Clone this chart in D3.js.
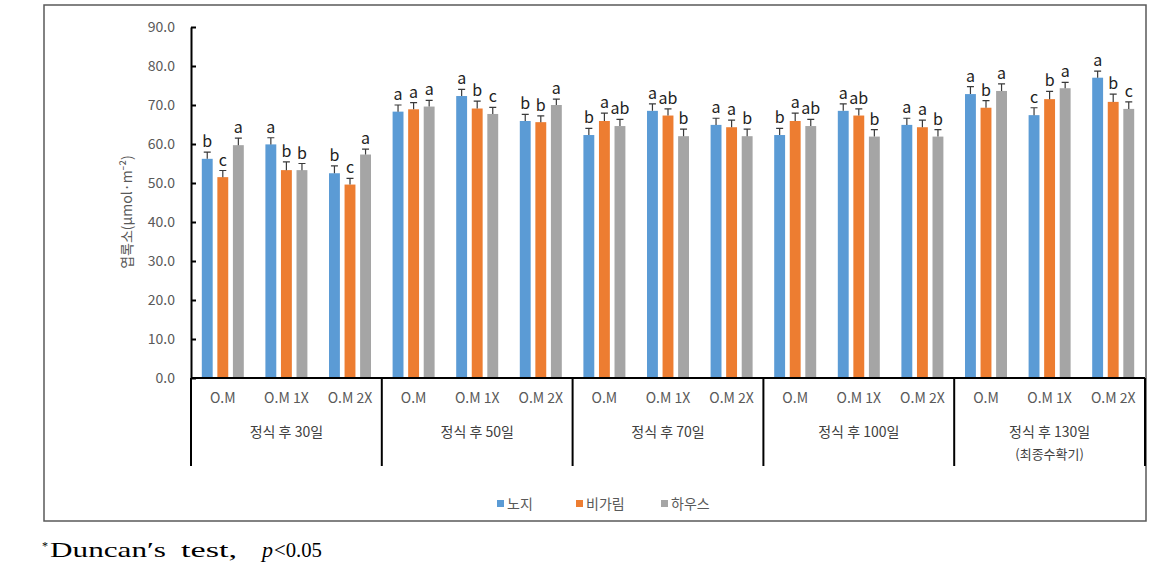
<!DOCTYPE html>
<html>
<head>
<meta charset="utf-8">
<script src="https://cdn.jsdelivr.net/npm/d3@7"></script>
<style>
  body { margin: 0; background: #fff; }
  svg text { font-family: 'Noto Sans CJK KR', 'Noto Sans', sans-serif; }
</style>
</head>
<body>
<script>
// Data
const groups = ['정식 후 30일', '정식 후 50일', '정식 후 70일', '정식 후 100일', '정식 후 130일'];
const treatments = ['O.M', 'O.M 1X', 'O.M 2X'];
const seriesNames = ['노지', '비가림', '하우스'];
const colors = ['#5B9BD5', '#ED7D31', '#A5A5A5'];

// values per category (group x treatment), one array per series
const openField = [56.2, 59.9, 52.5, 68.3, 72.3, 65.9, 62.3, 68.5, 64.9, 62.3, 68.5, 64.9, 72.8, 67.4, 77.0];
const rainShelter = [51.5, 53.3, 49.6, 68.9, 69.1, 65.6, 65.9, 67.3, 64.3, 65.9, 67.3, 64.3, 69.3, 71.5, 70.8];
const greenhouse = [59.7, 53.3, 57.3, 69.6, 67.7, 70.0, 64.6, 62.0, 62.0, 64.6, 61.9, 61.9, 73.6, 74.3, 69.0];

const errOpen = [1.7, 1.7, 1.9, 1.7, 1.7, 1.7, 1.7, 1.8, 1.7, 1.7, 1.8, 1.7, 1.9, 1.9, 1.7];
const errRain = [1.7, 2.1, 1.6, 1.7, 1.9, 1.6, 2.0, 1.7, 1.8, 2.0, 1.7, 1.8, 1.8, 2.0, 2.0];
const errHouse = [1.8, 1.7, 1.4, 1.6, 1.7, 1.5, 1.7, 1.8, 1.8, 1.7, 1.8, 1.8, 1.8, 1.5, 1.8];

const letOpen = ['b', 'a', 'b', 'a', 'a', 'b', 'b', 'a', 'a', 'b', 'a', 'a', 'a', 'c', 'a'];
const letRain = ['c', 'b', 'c', 'a', 'b', 'b', 'a', 'ab', 'a', 'a', 'ab', 'a', 'b', 'b', 'b'];
const letHouse = ['a', 'b', 'a', 'a', 'c', 'a', 'ab', 'b', 'b', 'ab', 'b', 'b', 'a', 'a', 'c'];

const yTicks = [0, 10, 20, 30, 40, 50, 60, 70, 80, 90];

const values = [openField, rainShelter, greenhouse];
const errors = [errOpen, errRain, errHouse];
const letters = [letOpen, letRain, letHouse];

const categories = [];
groups.forEach((g, gi) => treatments.forEach((t, ti) => categories.push(gi + '|' + ti)));

// SVG
const svg = d3.select('body').append('svg').attr('width', 1169).attr('height', 574);

// chart frame
svg.append('rect')
  .attr('x', 44).attr('y', 5).attr('width', 1102).attr('height', 516)
  .attr('fill', 'none').attr('stroke', '#595959').attr('stroke-width', 1.5);

const plotLeft = 191, plotRight = 1145, plotTop = 27, plotBottom = 378;

const x = d3.scaleBand().domain(categories).range([plotLeft, plotRight]);
const y = d3.scaleLinear().domain([0, 90]).range([plotBottom, plotTop]);
const xs = d3.scaleBand().domain([0, 1, 2]).range([0, 42]).paddingInner(0.3);
const barOffset = (x.bandwidth() - 42) / 2;

// y axis
const yAxis = svg.append('g')
  .attr('transform', `translate(${plotLeft},0)`)
  .call(d3.axisLeft(y).tickValues(yTicks).tickFormat(d3.format('.1f')).tickSizeInner(-5).tickSizeOuter(0).tickPadding(16));
yAxis.select('.domain').attr('stroke', '#000').attr('stroke-width', 2);
yAxis.selectAll('.tick line').attr('stroke', '#000').attr('stroke-width', 2);
yAxis.selectAll('.tick text').attr('fill', '#595959').attr('font-size', 14);

svg.append('text')
  .attr('transform', 'translate(132,212) rotate(-90)')
  .attr('text-anchor', 'middle')
  .attr('fill', '#595959')
  .attr('font-size', 14)
  .text('엽록소(μmol·m⁻²)');

// bars
values.forEach((vals, si) => {
  const g = svg.append('g');
  g.selectAll('rect')
    .data(vals)
    .enter()
    .append('rect')
    .attr('x', (d, i) => x(categories[i]) + barOffset + xs(si))
    .attr('width', xs.bandwidth())
    .attr('y', (d) => y(d))
    .attr('height', (d) => plotBottom - y(d))
    .attr('fill', colors[si]);

  // error bars
  const cx = (i) => x(categories[i]) + barOffset + xs(si) + xs.bandwidth() / 2;
  g.selectAll('.err')
    .data(vals)
    .enter()
    .append('path')
    .attr('class', 'err')
    .attr('d', (d, i) => {
      const c = cx(i), t = y(d + errors[si][i]);
      return `M${c},${y(d)}V${t}M${c - 3.5},${t}H${c + 3.5}`;
    })
    .attr('stroke', '#3a3a3a')
    .attr('stroke-width', 1.2)
    .attr('fill', 'none');

  // significance letters
  g.selectAll('.lab')
    .data(vals)
    .enter()
    .append('text')
    .attr('class', 'lab')
    .attr('x', (d, i) => cx(i))
    .attr('y', (d, i) => y(d + errors[si][i]) - 5)
    .attr('text-anchor', 'middle')
    .attr('font-size', 16)
    .attr('fill', '#222')
    .text((d, i) => letters[si][i]);
});

// x axis line
svg.append('line')
  .attr('x1', plotLeft).attr('x2', plotRight).attr('y1', plotBottom).attr('y2', plotBottom)
  .attr('stroke', '#000').attr('stroke-width', 2);

// treatment labels
svg.append('g').selectAll('text')
  .data(categories)
  .enter()
  .append('text')
  .attr('x', (d) => x(d) + x.bandwidth() / 2)
  .attr('y', 403)
  .attr('text-anchor', 'middle')
  .attr('fill', '#595959')
  .attr('font-size', 14)
  .text((d) => treatments[+d.split('|')[1]]);

// group labels and dividers
const groupW = x.bandwidth() * 3;
svg.append('g').selectAll('line')
  .data(d3.range(groups.length + 1))
  .enter()
  .append('line')
  .attr('x1', (d) => plotLeft + d * groupW)
  .attr('x2', (d) => plotLeft + d * groupW)
  .attr('y1', plotBottom)
  .attr('y2', 466)
  .attr('stroke', '#000')
  .attr('stroke-width', 2);

svg.append('g').selectAll('text')
  .data(groups)
  .enter()
  .append('text')
  .attr('x', (d, i) => plotLeft + (i + 0.5) * groupW)
  .attr('y', 437)
  .attr('text-anchor', 'middle')
  .attr('fill', '#404040')
  .attr('font-size', 14)
  .text((d) => d);

svg.append('text')
  .attr('x', plotLeft + 4.5 * groupW)
  .attr('y', 459)
  .attr('text-anchor', 'middle')
  .attr('fill', '#404040')
  .attr('font-size', 13)
  .text('(최종수확기)');

// legend
const legendX = [497, 576, 661];
const legend = svg.append('g');
seriesNames.forEach((n, i) => {
  legend.append('rect')
    .attr('x', legendX[i]).attr('y', 500).attr('width', 7).attr('height', 7)
    .attr('fill', colors[i]);
  legend.append('text')
    .attr('x', legendX[i] + 10).attr('y', 509)
    .attr('fill', '#595959')
    .attr('font-size', 14)
    .text(n);
});

// footnote
const serif = "'Liberation Serif', serif";
svg.append('text').attr('x', 42).attr('y', 550).style('font-family', serif)
  .attr('font-size', 12).text('*');
svg.append('text').attr('x', 50).attr('y', 557).style('font-family', serif)
  .attr('font-size', 22).attr('textLength', 116).attr('lengthAdjust', 'spacingAndGlyphs').text('Duncan\u2032s');
svg.append('text').attr('x', 181).attr('y', 557).style('font-family', serif)
  .attr('font-size', 22).attr('textLength', 56).attr('lengthAdjust', 'spacingAndGlyphs').text('test,');
svg.append('text').attr('x', 262).attr('y', 557).style('font-family', serif)
  .attr('font-size', 22).attr('font-style', 'italic').text('p');
svg.append('text').attr('x', 274).attr('y', 557).style('font-family', serif)
  .attr('font-size', 22).attr('textLength', 48).attr('lengthAdjust', 'spacingAndGlyphs').text('<0.05');
</script>
</body>
</html>
